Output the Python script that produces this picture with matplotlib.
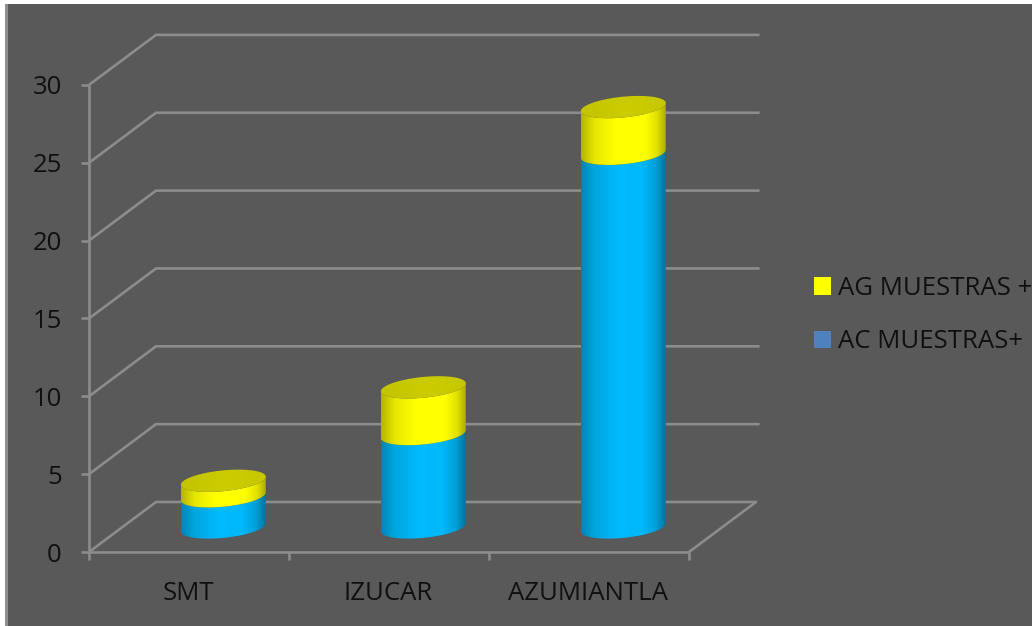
import numpy as np
import matplotlib
matplotlib.use("Agg")
import matplotlib.pyplot as plt
from matplotlib.colors import LinearSegmentedColormap
from matplotlib.patches import Polygon, Rectangle

# Chart data
categories = ["SMT", "IZUCAR", "AZUMIANTLA"]
ac_muestras = [2, 6, 24]
ag_muestras = [1, 3, 3]
y_ticks = [0, 5, 10, 15, 20, 25, 30]
series_labels = ["AG MUESTRAS +", "AC MUESTRAS+"]

W, H = 1032, 626
BG = "#595959"
LINE = "#8c8c8c"
TEXT = "#101010"
FONT = "Open Sans"
FS = 18.5

# Value axis scale and oblique depth, expressed in data units
PX_X = 200.0
PX_Y = 15.57
X0, Y0 = 89.0, 552.0
DEPTH_X = 67 / PX_X
DEPTH_Y = 50 / PX_Y

# Cylinder geometry
HALF_W = 42.5 / PX_X
SHEAR = 4.0 / PX_Y
MINOR = 10.4 / PX_Y

fig = plt.figure(figsize=(W / 100, H / 100), dpi=100, facecolor="white")
ax = fig.add_axes([0, 0, 1, 1])
ax.set_xlim(-X0 / PX_X, (W - X0) / PX_X)
ax.set_ylim((Y0 - H) / PX_Y, Y0 / PX_Y)
ax.axis("off")

# Chart area: white sliver at the top and left, then a pale edge, then dark fill
px = lambda v: v / W
py = lambda v: 1 - v / H
fig.patches.append(Rectangle((px(5), 0), 1 - px(5), py(4), transform=fig.transFigure,
                             facecolor=BG, edgecolor="none", zorder=-5))
fig.patches.append(Rectangle((px(5), 0), px(2.6), py(4), transform=fig.transFigure,
                             facecolor="#8f8f8f", edgecolor="none", zorder=-4))

n = len(categories)
line_kw = dict(color=LINE, lw=1.9, solid_capstyle="butt", solid_joinstyle="miter", zorder=1)

# Back wall gridlines wrapping onto the side wall
for v in y_ticks:
    right = n + DEPTH_X + (0.005 if v == 0 else 0.018)
    ax.plot([0, DEPTH_X, right], [v, v + DEPTH_Y, v + DEPTH_Y], **line_kw)
    ax.plot([-8 / PX_X, 0], [v, v], **line_kw)

# Axes and floor edge
ax.plot([0, 0], [y_ticks[0] - 8 / PX_Y, y_ticks[-1]], **line_kw)
ax.plot([0, n], [0, 0], **line_kw)
ax.plot([n, n + DEPTH_X], [0, DEPTH_Y], **line_kw)
for i in range(1, n + 1):
    ax.plot([i, i], [0, -8 / PX_Y], **line_kw)

blue_map = LinearSegmentedColormap.from_list(
    "blue_side", [(0, "#0083b4"), (0.14, "#00a4dc"), (0.45, "#00bbff"),
                  (0.72, "#00b8fa"), (0.88, "#00a0d8"), (1, "#00749e")])
yellow_map = LinearSegmentedColormap.from_list(
    "yellow_side", [(0, "#b4b400"), (0.16, "#e6e600"), (0.4, "#ffff00"),
                    (0.75, "#ffff00"), (0.9, "#e0e000"), (1, "#acac00")])
cap_map = LinearSegmentedColormap.from_list("cap", ["#c4c400", "#cccc00", "#c8c800"])

t_front = np.linspace(np.pi, 2 * np.pi, 80)
t_full = np.linspace(0, 2 * np.pi, 160)


def ring(cx, cy, t):
    return np.column_stack([cx + HALF_W * np.cos(t),
                            cy + SHEAR * np.cos(t) + MINOR * np.sin(t)])


def shaded(verts, cmap, cx, lo, hi, z):
    grad = np.linspace(0, 1, 256).reshape(1, -1)
    img = ax.imshow(grad, cmap=cmap, aspect="auto", zorder=z, interpolation="bilinear",
                    extent=[cx - HALF_W, cx + HALF_W, lo, hi], origin="lower")
    clip = Polygon(verts, closed=True, transform=ax.transData, facecolor="none", edgecolor="none")
    ax.add_patch(clip)
    img.set_clip_path(clip)


def side(cx, base, top, cmap, z):
    verts = np.vstack([ring(cx, base, t_front), ring(cx, top, t_front)[::-1]])
    shaded(verts, cmap, cx, base - 2, top + 2, z)


for i, (ac, ag) in enumerate(zip(ac_muestras, ag_muestras)):
    cx = i + 0.5 + DEPTH_X / 2 + 0.004
    base = DEPTH_Y / 2 - 0.03
    side(cx, base, base + ac, blue_map, 3)
    side(cx, base + ac, base + ac + ag, yellow_map, 4)
    shaded(ring(cx, base + ac + ag, t_full), cap_map, cx,
           base + ac + ag - 2, base + ac + ag + 2, 5)

ax.set_xlim(-X0 / PX_X, (W - X0) / PX_X)
ax.set_ylim((Y0 - H) / PX_Y, Y0 / PX_Y)

# Tick labels
for v in y_ticks:
    ax.text(-27 / PX_X, v, str(v), ha="right", va="center_baseline",
            color=TEXT, fontsize=FS, family=FONT)
for i, c in enumerate(categories):
    ax.text(i + 0.495, -38 / PX_Y, c, ha="center", va="center_baseline",
            color=TEXT, fontsize=FS, family=FONT)

# Legend
handles = [Rectangle((0, 0), 1, 1, facecolor="#ffff00", edgecolor="none"),
           Rectangle((0, 0), 1, 1, facecolor="#4f81bd", edgecolor="none")]
fig.legend(handles, series_labels, loc="upper left",
           bbox_to_anchor=(814 / W, 1 - 276 / H), frameon=False, borderpad=0, borderaxespad=0,
           handlelength=0.65, handleheight=0.65, handletextpad=0.28, labelspacing=1.1,
           prop={"family": FONT, "size": FS}, labelcolor=TEXT)

fig.savefig("out.png", dpi=100, facecolor="white")
